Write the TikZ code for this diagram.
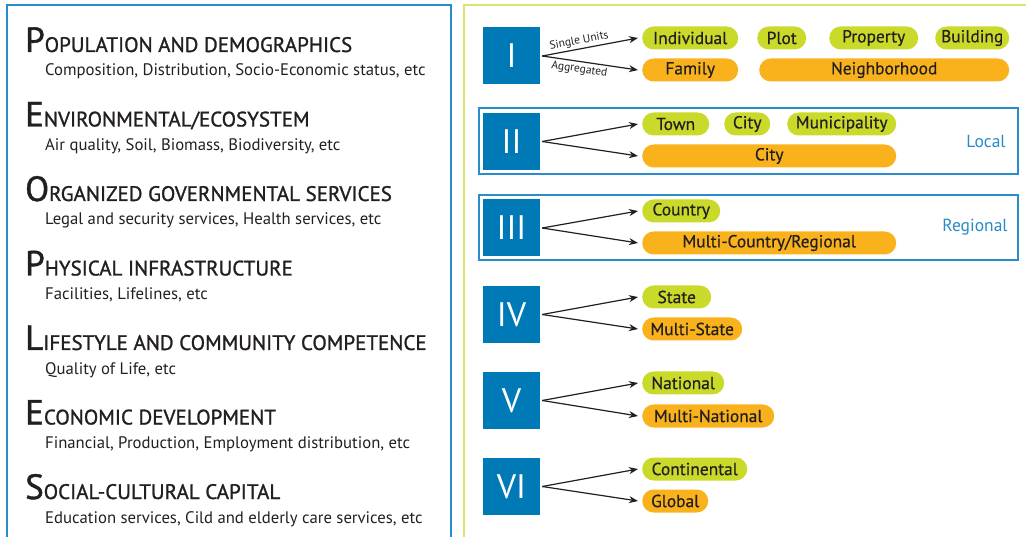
\documentclass[tikz,border=0pt]{standalone}
\usepackage{fontspec}
\setmainfont{PT Sans}
\newfontfamily\ttlfont[FakeBold=1.2]{PT Sans}
\newfontfamily\pillfont[FakeBold=0.5]{PT Sans}
\usetikzlibrary{arrows.meta}
\definecolor{sqblue}{RGB}{0,122,183}
\definecolor{pgreen}{RGB}{201,218,42}
\definecolor{porange}{RGB}{249,178,27}
\definecolor{lboxblue}{RGB}{40,140,205}
\definecolor{rpanel}{RGB}{218,228,110}
\definecolor{txt}{RGB}{35,31,32}
\definecolor{scaleblue}{RGB}{40,138,200}
\newcommand\ttlfmt[2]{\ttlfont{\fontsize{35}{35}\selectfont #1}{\fontsize{21}{21}\selectfont #2}}
\begin{document}
\begin{tikzpicture}[x=1pt,y=-1pt,
  sq/.style={fill=sqblue, minimum width=57pt, minimum height=57pt, inner sep=0pt, text=white, font=\fontsize{34}{34}\selectfont},
  pill/.style={rounded corners=11.5pt, minimum height=23pt, inner sep=0pt, anchor=west, text=txt, font=\pillfont\fontsize{17.4}{17.4}\selectfont},
  gp/.style={pill, fill=pgreen},
  op/.style={pill, fill=porange},
  arr/.style={-{Stealth[length=9pt,width=7pt]}, line width=1.2pt, draw=txt},
  ttl/.style={anchor=base west, text=txt, inner sep=0pt},
  sub/.style={anchor=base west, text=txt, inner sep=0pt, font=\fontsize{16.7}{16.7}\selectfont},
  scalebox/.style={draw=lboxblue, line width=1.2pt},
  scl/.style={text=scaleblue, font=\fontsize{17.5}{17.5}\selectfont, inner sep=0pt},
  lbl/.style={font=\fontsize{11.5}{11.5}\selectfont, text=txt, inner sep=2pt, sloped, pos=0.4},
]
\useasboundingbox (0,0) rectangle (1026,537);
\clip (0,0) rectangle (1026,537);
% panels
\draw[lboxblue, line width=1.5pt] (7,5) rectangle (451,580);
\draw[rpanel, line width=2pt] (464,5) rectangle (1060,580);
% left texts
\node[ttl] (t1) at (25,52) {\ttlfmt{P}{OPULATION AND DEMOGRAPHICS}};
\node[sub] (s1) at (45,76) {Composition, Distribution, Socio-Economic status, etc};
\node[ttl] (t2) at (25,126.5) {\ttlfmt{E}{NVIRONMENTAL/ECOSYSTEM}};
\node[sub] (s2) at (45,150.5) {Air quality, Soil, Biomass, Biodiversity, etc};
\node[ttl] (t3) at (25,201) {\ttlfmt{O}{RGANIZED GOVERNMENTAL SERVICES}};
\node[sub] (s3) at (45,225) {Legal and security services, Health services, etc};
\node[ttl] (t4) at (25,275.5) {\ttlfmt{P}{HYSICAL INFRASTRUCTURE}};
\node[sub] (s4) at (45,299.5) {Facilities, Lifelines, etc};
\node[ttl] (t5) at (25,350) {\ttlfmt{L}{IFESTYLE AND COMMUNITY COMPETENCE}};
\node[sub] (s5) at (45,374) {Quality of Life, etc};
\node[ttl] (t6) at (25,424.5) {\ttlfmt{E}{CONOMIC DEVELOPMENT}};
\node[sub] (s6) at (45,448.5) {Financial, Production, Employment distribution, etc};
\node[ttl] (t7) at (25,499) {\ttlfmt{S}{OCIAL-CULTURAL CAPITAL}};
\node[sub] (s7) at (45,523) {Education services, Cild and elderly care services, etc};
% scale boxes
\draw[scalebox] (479,108) rectangle (1018,174);
\draw[scalebox] (479,195) rectangle (1018,260);
\node[scl] (local) at (986,141) {Local};
\node[scl] (regional) at (975,227) {Regional};
% level I
\node[sq] (q1) at (511.5,56) {I};
\node[gp, minimum width=96pt] (ind) at (642,38) {Individual};
\node[gp, minimum width=49pt] (plot) at (757,38) {Plot};
\node[gp, minimum width=89pt] (prop) at (829,38) {Property};
\node[gp, minimum width=74pt] (bld) at (935,38) {Building};
\node[op, minimum width=96pt] (fam) at (642,70) {Family};
\node[op, minimum width=250pt] (nbh) at (759,70) {Neighborhood};
\draw[arr] (q1.east) ++(2,0) coordinate (a1) -- node[lbl, above] {Single Units} ([xshift=-4pt]ind.west);
\draw[arr] (a1) -- node[lbl, below] {Aggregated} ([xshift=-4pt]fam.west);
% level II
\node[sq] (q2) at (511.5,141.5) {II};
\node[gp, minimum width=67pt] (town) at (642,124) {Town};
\node[gp, minimum width=46pt] (city1) at (724,124) {City};
\node[gp, minimum width=109pt] (muni) at (787,124) {Municipality};
\node[op, minimum width=254pt] (city2) at (642,156) {City};
\draw[arr] (q2.east) ++(2,0) coordinate (a2) -- ([xshift=-4pt]town.west);
\draw[arr] (a2) -- ([xshift=-4pt]city2.west);
% level III
\node[sq] (q3) at (511.5,228) {III};
\node[gp, minimum width=78pt] (ctry) at (642,211) {Country};
\node[op, minimum width=254pt] (mctry) at (642,243) {Multi-Country/Regional};
\draw[arr] (q3.east) ++(2,0) coordinate (a3) -- ([xshift=-4pt]ctry.west);
\draw[arr] (a3) -- ([xshift=-4pt]mctry.west);
% level IV
\node[sq] (q4) at (511.5,314.5) {IV};
\node[gp, minimum width=69pt] (state) at (642,297) {State};
\node[op, minimum width=100pt] (mstate) at (642,329) {Multi-State};
\draw[arr] (q4.east) ++(2,0) coordinate (a4) -- ([xshift=-4pt]state.west);
\draw[arr] (a4) -- ([xshift=-4pt]mstate.west);
% level V
\node[sq] (q5) at (511.5,400.5) {V};
\node[gp, minimum width=82pt] (nat) at (642,383) {National};
\node[op, minimum width=132pt] (mnat) at (642,416) {Multi-National};
\draw[arr] (q5.east) ++(2,0) coordinate (a5) -- ([xshift=-4pt]nat.west);
\draw[arr] (a5) -- ([xshift=-4pt]mnat.west);
% level VI
\node[sq] (q6) at (511.5,486.5) {VI};
\node[gp, minimum width=105pt] (cont) at (642,469) {Continental};
\node[op, minimum width=66pt] (glob) at (642,501) {Global};
\draw[arr] (q6.east) ++(2,0) coordinate (a6) -- ([xshift=-4pt]cont.west);
\draw[arr] (a6) -- ([xshift=-4pt]glob.west);
\end{tikzpicture}
\end{document}
